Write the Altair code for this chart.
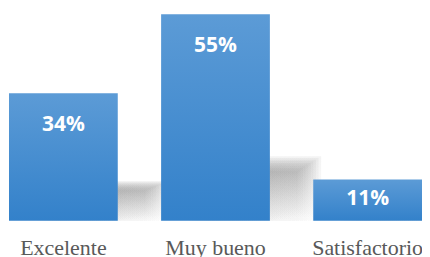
import altair as alt
import pandas as pd

categories = ["Excelente", "Muy bueno", "Satisfactorio"]
values = [34, 55, 11]
labels = ["34%", "55%", "11%"]

df = pd.DataFrame({"cat": categories, "value": values, "label": labels})

PX_PER_UNIT = 207 / 55.0
SERIF = "Liberation Serif"

x = alt.X("cat:N", sort=categories, title=None,
          scale=alt.Scale(paddingInner=0.285, paddingOuter=0),
          axis=None)
yscale = alt.Scale(domain=[0, 55], nice=False, zero=True)

base = alt.Chart(df)

shadow_layers = []
n_sh = 10
for k in range(n_sh):
    f = 0.24 + 0.008 * k
    shadow_layers.append(
        base.transform_calculate(sh=f"datum.value * {f}").mark_bar(
            size=109, xOffset=28 + 2.6 * k, opacity=0.1,
            color=alt.Gradient(gradient="linear", x1=0.55, y1=0.15, x2=0.9, y2=1.1,
                               stops=[alt.GradientStop(color="#8a8a8a", offset=0),
                                      alt.GradientStop(color="#ffffff", offset=1)])
        ).encode(
            x=x,
            y=alt.Y("sh:Q", scale=yscale, axis=None),
            y2=alt.datum(0),
        )
    )

bars = base.mark_bar(
    color=alt.Gradient(gradient="linear", x1=0, x2=0, y1=0, y2=1,
                       stops=[alt.GradientStop(color="#5c9bd6", offset=0),
                              alt.GradientStop(color="#3381ca", offset=1)])
).encode(
    x=x,
    y=alt.Y("value:Q", scale=yscale, axis=None),
)

text = base.transform_calculate(
    ly=f"datum.value - (datum.value < 20 ? 26 : 38) / {PX_PER_UNIT}"
).mark_text(
    font="Open Sans", fontWeight="bold", fontSize=21, color="white",
    baseline="alphabetic", align="center"
).encode(
    x=x,
    y=alt.Y("ly:Q", scale=yscale, axis=None),
    text="label:N",
)

cat_labels = base.mark_text(
    font=SERIF, fontSize=22, color="#595959", baseline="alphabetic", align="center"
).encode(
    x=x,
    y=alt.value(241),
    text="cat:N",
)

# invisible helper texts (white on white) so that the serif faces are loaded
helpers = []
for i, fnt in enumerate(["Liberation Serif", "DejaVu Serif", "Times New Roman", "serif"]):
    helpers.append(alt.Chart(pd.DataFrame({"t": [fnt]})).mark_text(
        font=fnt, fontSize=16, align="left", color="white").encode(
        x=alt.value(290), y=alt.value(10 + 18 * i), text="t:N"))

chart = alt.layer(*helpers, *shadow_layers, bars, text, cat_labels).properties(
    width=414, height=207,
    background="white",
    autosize=alt.AutoSizeParams(type="none"),
    padding={"left": 1, "top": 6, "right": 0, "bottom": 40},
).configure_view(strokeWidth=0, stroke="transparent")

chart.save("out.html", embed_options={"renderer": "svg", "actions": False})
